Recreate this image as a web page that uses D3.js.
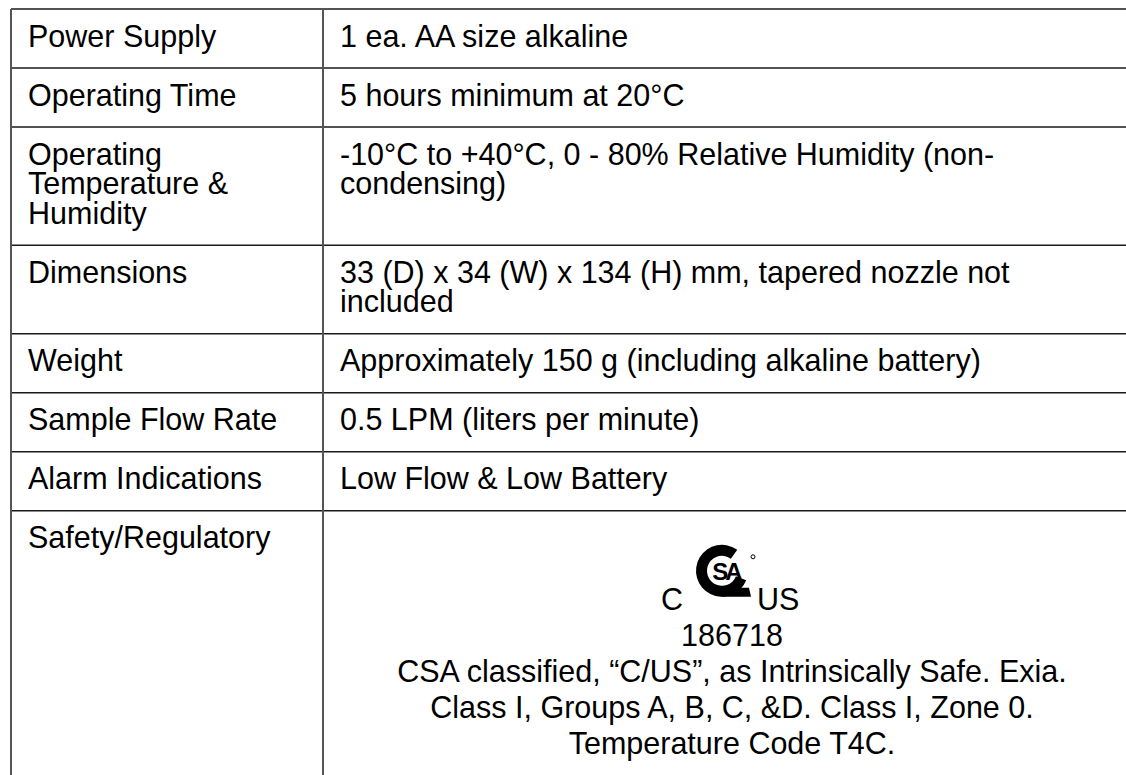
<!DOCTYPE html>
<html>
<head>
<meta charset="utf-8">
<script src="https://cdn.jsdelivr.net/npm/d3@7"></script>
<style>
  body { margin: 0; background: #fff; }
  text { font-family: "Liberation Sans", Arial, Helvetica, sans-serif; font-size: 30.5px; fill: #000; }
</style>
</head>
<body>
<div id="chart"></div>
<script>
// table content
var labels = [
  ["Power Supply"],
  ["Operating Time"],
  ["Operating", "Temperature &", "Humidity"],
  ["Dimensions"],
  ["Weight"],
  ["Sample Flow Rate"],
  ["Alarm Indications"],
  ["Safety/Regulatory"]
];
var values = [
  ["1 ea. AA size alkaline"],
  ["5 hours minimum at 20°C"],
  ["-10°C to +40°C, 0 - 80% Relative Humidity (non-", "condensing)"],
  ["33 (D) x 34 (W) x 134 (H) mm, tapered nozzle not", "included"],
  ["Approximately 150 g (including alkaline battery)"],
  ["0.5 LPM (liters per minute)"],
  ["Low Flow & Low Battery"],
  []
];
var certMarks = ["C", "US"];
var certLines = [
  "186718",
  "CSA classified, \u201cC/US\u201d, as Intrinsically Safe. Exia.",
  "Class I, Groups A, B, C, &D. Class I, Zone 0.",
  "Temperature Code T4C."
];

var width = 1126, height = 775;
var top0 = 9, left0 = 11, colSplit = 323, right0 = 1141, bottom0 = 800;

var svg = d3.select("#chart")
  .append("svg")
    .attr("width", width)
    .attr("height", height);

// row height from number of text lines
var rowHeight = d3.scaleLinear().domain([1, 3]).range([59, 118.2]);
var lineY = d3.scaleLinear().domain([0, 1]).range([37.7, 67.3]);

var counts = labels.map(function (l, i) { return Math.max(l.length, values[i].length, 1); });
var tops = [top0];
counts.forEach(function (c, i) { tops.push(tops[i] + rowHeight(c)); });
tops[tops.length - 1] = bottom0;

var colX = d3.scaleOrdinal().domain(["label", "value"]).range([left0, colSplit]);

// grid lines
svg.append("g")
  .selectAll("line.h")
  .data(tops.slice(0, -1))
  .enter()
  .append("line")
    .attr("x1", left0).attr("x2", right0)
    .attr("y1", function (d) { return d; })
    .attr("y2", function (d) { return d; })
    .style("stroke", "#1a1a1a")
    .style("stroke-width", 1.6);

svg.append("g")
  .selectAll("line.v")
  .data([left0, colSplit, right0])
  .enter()
  .append("line")
    .attr("x1", function (d) { return d; })
    .attr("x2", function (d) { return d; })
    .attr("y1", top0).attr("y2", bottom0)
    .style("stroke", "#555")
    .style("stroke-width", 2);

// cell text
var rows = svg.append("g")
  .selectAll("g.row")
  .data(labels)
  .enter()
  .append("g")
    .attr("transform", function (d, i) { return "translate(0," + tops[i] + ")"; });

rows.each(function (d, i) {
  var g = d3.select(this);
  g.selectAll("text.lab")
    .data(d)
    .enter()
    .append("text")
      .attr("x", colX("label") + 17)
      .attr("y", function (t, j) { return lineY(j); })
      .text(function (t) { return t; });
  g.selectAll("text.val")
    .data(values[i])
    .enter()
    .append("text")
      .attr("x", colX("value") + 17)
      .attr("y", function (t, j) { return lineY(j); })
      .text(function (t) { return t; });
});

// certification block in last row
var lastTop = tops[labels.length - 1];
var cx = (colSplit + right0) / 2;
var cert = svg.append("g").attr("transform", "translate(" + cx + "," + lastTop + ")");

// CSA mark
var logo = cert.append("g").attr("transform", "translate(-10,60)");
logo.append("path")
  .attr("d", d3.arc()({ innerRadius: 15, outerRadius: 26, startAngle: Math.PI * 0.62, endAngle: Math.PI * 2.2 }))
  .style("fill", "#000");
logo.append("path")
  .attr("d", "M0,17 L27,17 L29,26 L0,26 Z")
  .style("fill", "#000");
logo.append("text")
  .attr("x", 4).attr("y", 9)
  .attr("text-anchor", "middle")
  .style("font-size", "24px")
  .style("font-weight", "bold")
  .style("letter-spacing", "-3px")
  .text("SA");
logo.append("circle")
  .attr("cx", 31).attr("cy", -14).attr("r", 2)
  .style("fill", "none").style("stroke", "#000").style("stroke-width", 1);

cert.append("text")
  .attr("x", -49).attr("y", 99)
  .attr("text-anchor", "end")
  .text(certMarks[0]);
cert.append("text")
  .attr("x", 25).attr("y", 99)
  .attr("text-anchor", "start")
  .text(certMarks[1]);

cert.selectAll("text.line")
  .data(certLines)
  .enter()
  .append("text")
    .attr("x", 0)
    .attr("y", function (d, i) { return 135 + i * 36; })
    .attr("text-anchor", "middle")
    .text(function (d) { return d; });
</script>
</body>
</html>
